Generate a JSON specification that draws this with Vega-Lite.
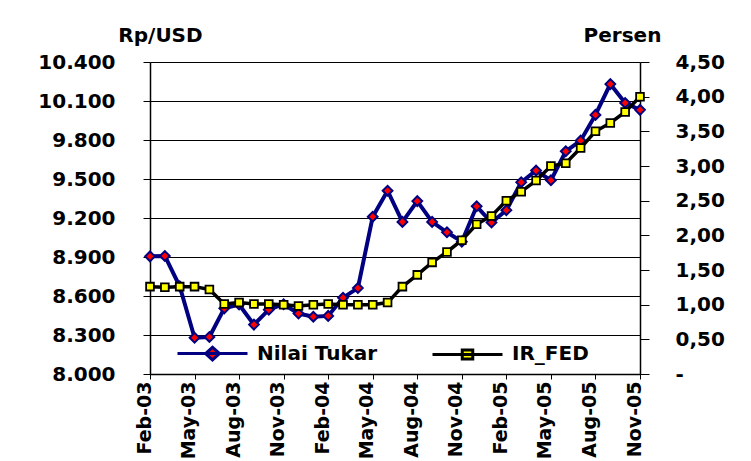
{
  "$schema": "https://vega.github.io/schema/vega-lite/v6.json",
  "width": 490,
  "height": 312,
  "autosize": {"type": "none"},
  "padding": {"left": 150, "top": 62, "right": 111, "bottom": 87},
  "background": "white",
  "config": {
    "view": {"stroke": null},
    "axis": {"labelFont": "DejaVu Sans", "labelFontWeight": "bold", "labelColor": "#000", "titleFont": "DejaVu Sans", "titleFontWeight": "bold", "titleColor": "#000", "domainColor": "#000", "tickColor": "#000"}
  },
  "data": {"values": [
    {"month": "Feb-03", "series": "Nilai Tukar", "value": 8905},
    {"month": "Mar-03", "series": "Nilai Tukar", "value": 8908},
    {"month": "Apr-03", "series": "Nilai Tukar", "value": 8675},
    {"month": "May-03", "series": "Nilai Tukar", "value": 8279},
    {"month": "Jun-03", "series": "Nilai Tukar", "value": 8285},
    {"month": "Jul-03", "series": "Nilai Tukar", "value": 8505},
    {"month": "Aug-03", "series": "Nilai Tukar", "value": 8535},
    {"month": "Sep-03", "series": "Nilai Tukar", "value": 8380},
    {"month": "Oct-03", "series": "Nilai Tukar", "value": 8495},
    {"month": "Nov-03", "series": "Nilai Tukar", "value": 8537},
    {"month": "Dec-03", "series": "Nilai Tukar", "value": 8465},
    {"month": "Jan-04", "series": "Nilai Tukar", "value": 8441},
    {"month": "Feb-04", "series": "Nilai Tukar", "value": 8447},
    {"month": "Mar-04", "series": "Nilai Tukar", "value": 8587},
    {"month": "Apr-04", "series": "Nilai Tukar", "value": 8661},
    {"month": "May-04", "series": "Nilai Tukar", "value": 9210},
    {"month": "Jun-04", "series": "Nilai Tukar", "value": 9410},
    {"month": "Jul-04", "series": "Nilai Tukar", "value": 9170},
    {"month": "Aug-04", "series": "Nilai Tukar", "value": 9330},
    {"month": "Sep-04", "series": "Nilai Tukar", "value": 9170},
    {"month": "Oct-04", "series": "Nilai Tukar", "value": 9090},
    {"month": "Nov-04", "series": "Nilai Tukar", "value": 9018},
    {"month": "Dec-04", "series": "Nilai Tukar", "value": 9290},
    {"month": "Jan-05", "series": "Nilai Tukar", "value": 9165},
    {"month": "Feb-05", "series": "Nilai Tukar", "value": 9260},
    {"month": "Mar-05", "series": "Nilai Tukar", "value": 9475},
    {"month": "Apr-05", "series": "Nilai Tukar", "value": 9565},
    {"month": "May-05", "series": "Nilai Tukar", "value": 9490},
    {"month": "Jun-05", "series": "Nilai Tukar", "value": 9713},
    {"month": "Jul-05", "series": "Nilai Tukar", "value": 9795},
    {"month": "Aug-05", "series": "Nilai Tukar", "value": 9993},
    {"month": "Sep-05", "series": "Nilai Tukar", "value": 10230},
    {"month": "Oct-05", "series": "Nilai Tukar", "value": 10085},
    {"month": "Nov-05", "series": "Nilai Tukar", "value": 10032},
    {"month": "Feb-03", "series": "IR_FED", "value": 1.26},
    {"month": "Mar-03", "series": "IR_FED", "value": 1.25},
    {"month": "Apr-03", "series": "IR_FED", "value": 1.26},
    {"month": "May-03", "series": "IR_FED", "value": 1.26},
    {"month": "Jun-03", "series": "IR_FED", "value": 1.22},
    {"month": "Jul-03", "series": "IR_FED", "value": 1.01},
    {"month": "Aug-03", "series": "IR_FED", "value": 1.03},
    {"month": "Sep-03", "series": "IR_FED", "value": 1.01},
    {"month": "Oct-03", "series": "IR_FED", "value": 1.01},
    {"month": "Nov-03", "series": "IR_FED", "value": 1.00},
    {"month": "Dec-03", "series": "IR_FED", "value": 0.98},
    {"month": "Jan-04", "series": "IR_FED", "value": 1.00},
    {"month": "Feb-04", "series": "IR_FED", "value": 1.01},
    {"month": "Mar-04", "series": "IR_FED", "value": 1.00},
    {"month": "Apr-04", "series": "IR_FED", "value": 1.00},
    {"month": "May-04", "series": "IR_FED", "value": 1.00},
    {"month": "Jun-04", "series": "IR_FED", "value": 1.03},
    {"month": "Jul-04", "series": "IR_FED", "value": 1.26},
    {"month": "Aug-04", "series": "IR_FED", "value": 1.43},
    {"month": "Sep-04", "series": "IR_FED", "value": 1.61},
    {"month": "Oct-04", "series": "IR_FED", "value": 1.76},
    {"month": "Nov-04", "series": "IR_FED", "value": 1.93},
    {"month": "Dec-04", "series": "IR_FED", "value": 2.16},
    {"month": "Jan-05", "series": "IR_FED", "value": 2.28},
    {"month": "Feb-05", "series": "IR_FED", "value": 2.50},
    {"month": "Mar-05", "series": "IR_FED", "value": 2.63},
    {"month": "Apr-05", "series": "IR_FED", "value": 2.79},
    {"month": "May-05", "series": "IR_FED", "value": 3.00},
    {"month": "Jun-05", "series": "IR_FED", "value": 3.04},
    {"month": "Jul-05", "series": "IR_FED", "value": 3.26},
    {"month": "Aug-05", "series": "IR_FED", "value": 3.50},
    {"month": "Sep-05", "series": "IR_FED", "value": 3.62},
    {"month": "Oct-05", "series": "IR_FED", "value": 3.78},
    {"month": "Nov-05", "series": "IR_FED", "value": 4.00}
  ]},
  "encoding": {
    "x": {
      "field": "month", "type": "ordinal",
      "scale": {"type": "point", "padding": 0, "domain": ["Feb-03","Mar-03","Apr-03","May-03","Jun-03","Jul-03","Aug-03","Sep-03","Oct-03","Nov-03","Dec-03","Jan-04","Feb-04","Mar-04","Apr-04","May-04","Jun-04","Jul-04","Aug-04","Sep-04","Oct-04","Nov-04","Dec-04","Jan-05","Feb-05","Mar-05","Apr-05","May-05","Jun-05","Jul-05","Aug-05","Sep-05","Oct-05","Nov-05"]},
      "axis": {
        "title": null,
        "values": ["Feb-03","May-03","Aug-03","Nov-03","Feb-04","May-04","Aug-04","Nov-04","Feb-05","May-05","Aug-05","Nov-05"],
        "labelAngle": -90, "labelAlign": "right", "labelBaseline": "alphabetic",
        "labelFontSize": 19, "labelPadding": 2, "tickSize": 5, "domainWidth": 1.5, "grid": false, "labelOverlap": false
      }
    }
  },
  "layer": [
    {
      "transform": [{"filter": "datum.series == 'Nilai Tukar'"}],
      "encoding": {
        "y": {
          "field": "value", "type": "quantitative",
          "scale": {"domain": [8000, 10400], "zero": false, "nice": false},
          "axis": {
            "title": "Rp/USD", "titleAngle": 0, "titleAlign": "center", "titleBaseline": "middle", "titleX": 10, "titleY": -27, "titleFontSize": 20,
            "values": [8000, 8300, 8600, 8900, 9200, 9500, 9800, 10100, 10400],
            "labelExpr": "replace(format(datum.value, ',d'), ',', '.')",
            "labelFontSize": 20, "labelPadding": 28, "tickSize": 7, "domainWidth": 1.5,
            "grid": true, "gridColor": "#000", "gridWidth": 1, "gridOpacity": 1
          }
        }
      },
      "layer": [
        {
          "mark": {"type": "line", "strokeWidth": 4},
          "encoding": {
            "stroke": {
              "field": "series", "type": "nominal",
              "scale": {"domain": ["Nilai Tukar", "IR_FED"], "range": ["#000080", "#000000"]},
              "legend": {
                "title": null, "orient": "none", "direction": "horizontal", "legendX": 26, "legendY": 255,
                "padding": 0, "columnPadding": 48, "labelOffset": 8, "labelFont": "DejaVu Sans", "labelFontWeight": "bold", "labelFontSize": 20, "labelColor": "#000",
                "symbolSize": 4900, "symbolStrokeWidth": 3, "labelLimit": 300,
                "encode": {"symbols": {"update": {
                  "shape": {"signal": "datum.value === 'Nilai Tukar' ? 'M-1,0H1M-0.2,0L0,-0.18L0.2,0L0,0.18Z' : 'M-1,0H1M-0.15,-0.13H0.15V0.13H-0.15Z'"},
                  "fill": {"signal": "datum.value === 'Nilai Tukar' ? '#ff0000' : '#ffff00'"},
                  "stroke": {"signal": "datum.value === 'Nilai Tukar' ? '#000080' : '#000000'"},
                  "strokeWidth": {"value": 3},
                  "opacity": {"value": 1},
                  "fillOpacity": {"value": 1},
                  "strokeOpacity": {"value": 1}
                }}}
              }
            }
          }
        },
        {
          "mark": {"type": "point", "shape": "diamond", "filled": true, "fill": "#ff0000", "stroke": "#000080", "strokeWidth": 2, "size": 95, "opacity": 1}
        }
      ]
    },
    {
      "transform": [{"filter": "datum.series == 'IR_FED'"}],
      "encoding": {
        "y": {
          "field": "value", "type": "quantitative",
          "scale": {"domain": [0, 4.5], "nice": false},
          "axis": {
            "orient": "right",
            "title": "Persen", "titleAngle": 0, "titleAlign": "center", "titleBaseline": "middle", "titleX": -18, "titleY": -27, "titleFontSize": 20,
            "values": [0, 0.5, 1, 1.5, 2, 2.5, 3, 3.5, 4, 4.5],
            "labelExpr": "datum.value == 0 ? '-' : replace(format(datum.value, '.2f'), '.', ',')",
            "labelFontSize": 20, "labelPadding": 26, "tickSize": 9, "domainWidth": 1.5, "grid": false
          }
        }
      },
      "layer": [
        {
          "mark": {"type": "line", "strokeWidth": 3.5},
          "encoding": {
            "stroke": {"field": "series", "type": "nominal", "scale": {"domain": ["Nilai Tukar", "IR_FED"], "range": ["#000080", "#000000"]}}
          }
        },
        {
          "mark": {"type": "point", "shape": "square", "filled": true, "fill": "#ffff00", "stroke": "#000000", "strokeWidth": 1.8, "size": 60, "opacity": 1}
        }
      ]
    }
  ],
  "resolve": {"scale": {"y": "independent"}}
}
